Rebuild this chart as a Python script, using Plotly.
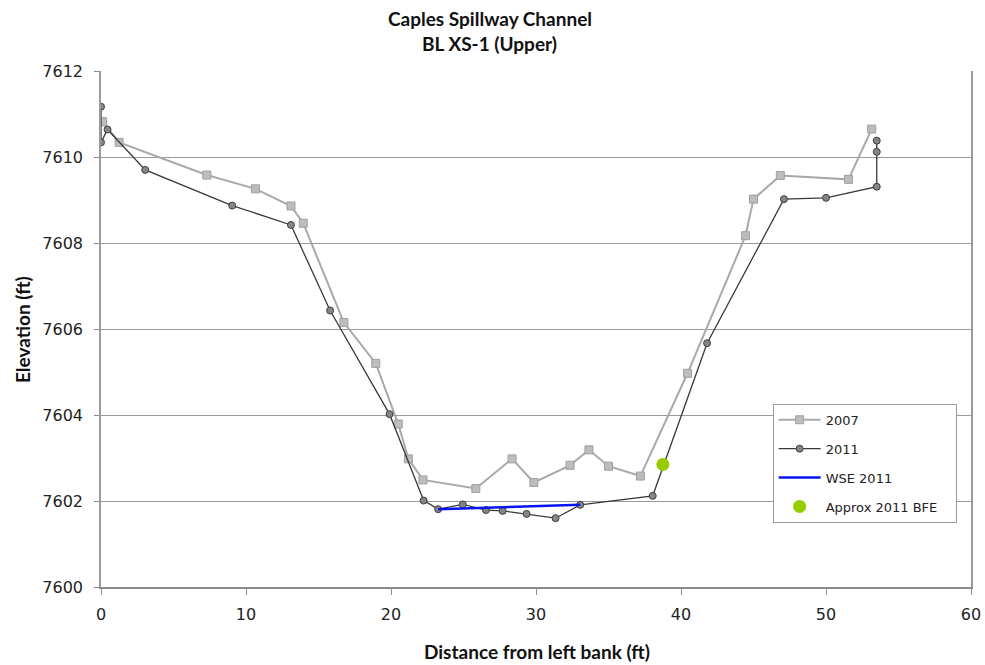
import plotly.graph_objects as go

# Cross-section survey, 2007
dist_2007 = [0.1, 1.25, 7.3, 10.65, 13.1, 13.95, 16.75, 18.95, 20.5, 21.2, 22.2, 25.85,
             28.35, 29.85, 32.35, 33.65, 35.0, 37.2, 40.45, 44.45, 45.0, 46.85, 51.55, 53.15]
elev_2007 = [7610.82, 7610.34, 7609.58, 7609.26, 7608.86, 7608.46, 7606.15, 7605.20,
             7603.79, 7602.98, 7602.49, 7602.29, 7602.98, 7602.43, 7602.83, 7603.19,
             7602.81, 7602.58, 7604.97, 7608.17, 7609.02, 7609.57, 7609.48, 7610.65]

# Cross-section survey, 2011
dist_2011 = [0.0, 0.0, 0.45, 3.05, 9.05, 13.1, 15.8, 19.9, 22.25, 23.25, 24.95, 26.55,
             27.7, 29.35, 31.35, 33.05, 38.05, 41.8, 47.1, 50.0, 53.5, 53.5, 53.5]
elev_2011 = [7611.17, 7610.34, 7610.64, 7609.70, 7608.87, 7608.42, 7606.43, 7604.02,
             7602.01, 7601.81, 7601.92, 7601.79, 7601.77, 7601.70, 7601.60, 7601.91,
             7602.12, 7605.67, 7609.02, 7609.05, 7609.31, 7610.12, 7610.38]

# Water surface elevation, 2011
dist_wse = [23.25, 33.05]
elev_wse = [7601.81, 7601.91]

# Approximate 2011 bankfull elevation
dist_bfe = [38.75]
elev_bfe = [7602.85]

x_ticks = [0, 10, 20, 30, 40, 50, 60]
y_ticks = [7600, 7602, 7604, 7606, 7608, 7610, 7612]

tick_font = dict(family="DejaVu Sans", size=16, color="#222222")
bold_font = dict(family="Lato", size=19, color="#111111")

# non-breaking padding widens the legend box a little on the right
PAD = "\u00a0" * 3

fig = go.Figure()

fig.add_trace(go.Scatter(
    x=dist_2007, y=elev_2007, name="2007", mode="lines+markers",
    line=dict(color="#a9a9a9", width=2),
    marker=dict(symbol="square", size=8, color="#bdbdbd",
                line=dict(color="#a0a0a0", width=1)),
    legendgroup="a",
))
fig.add_trace(go.Scatter(
    x=dist_2011, y=elev_2011, name="2011", mode="lines+markers",
    line=dict(color="#3a3a3a", width=1.3),
    marker=dict(symbol="circle", size=7, color="#858585",
                line=dict(color="#404040", width=1)),
    legendgroup="b",
))
fig.add_trace(go.Scatter(
    x=dist_wse, y=elev_wse, name="WSE 2011", mode="lines",
    line=dict(color="#0a14f0", width=2.5),
    legendgroup="c",
))
fig.add_trace(go.Scatter(
    x=dist_bfe, y=elev_bfe, name="Approx 2011 BFE" + PAD, mode="markers",
    marker=dict(symbol="circle", size=13, color="#99cc00"),
    legendgroup="d",
))

fig.update_layout(
    width=985, height=665,
    margin=dict(l=101, r=14, t=71, b=78, autoexpand=False),
    paper_bgcolor="white", plot_bgcolor="white",
    showlegend=True,
    legend=dict(
        x=0.772, y=0.355, xanchor="left", yanchor="top",
        bgcolor="white", bordercolor="#9a9a9a", borderwidth=1,
        font=dict(family="DejaVu Sans", size=13, color="#222222"),
        traceorder="grouped", tracegroupgap=9, itemwidth=42,
    ),
    xaxis=dict(
        range=[0, 60], tickvals=x_ticks, ticktext=[str(v) for v in x_ticks],
        showgrid=False, zeroline=False, automargin=False,
        showline=True, linecolor="#8c8c8c", linewidth=1.5,
        ticks="outside", ticklen=6, tickcolor="#8c8c8c", tickwidth=1,
        ticklabelstandoff=6, tickfont=tick_font,
    ),
    yaxis=dict(
        range=[7600, 7612], tickvals=y_ticks, ticktext=[str(v) for v in y_ticks],
        showgrid=True, gridcolor="#9a9a9a", gridwidth=1.3, zeroline=False,
        automargin=False,
        showline=True, linecolor="#9a9a9a", linewidth=1.5, mirror=True,
        ticks="outside", ticklen=5, tickcolor="#8c8c8c", tickwidth=1,
        ticklabelstandoff=8, tickfont=tick_font,
    ),
    annotations=[
        dict(text="<b>Caples Spillway Channel</b>", xref="paper", yref="paper",
             x=0.447, y=1, yshift=53, showarrow=False, font=bold_font,
             xanchor="center", yanchor="middle"),
        dict(text="<b>BL XS-1 (Upper)</b>", xref="paper", yref="paper",
             x=0.447, y=1, yshift=28, showarrow=False, font=bold_font,
             xanchor="center", yanchor="middle"),
        dict(text="<b>Distance from left bank (ft)</b>", xref="paper", yref="paper",
             x=0.501, y=0, yshift=-64, showarrow=False, font=bold_font,
             xanchor="center", yanchor="middle"),
        dict(text="<b>Elevation (ft)</b>", xref="paper", yref="paper",
             x=0, xshift=-79, y=0.498, showarrow=False, font=bold_font,
             textangle=-90, xanchor="center", yanchor="middle"),
    ],
)

fig.write_html("out.html")
